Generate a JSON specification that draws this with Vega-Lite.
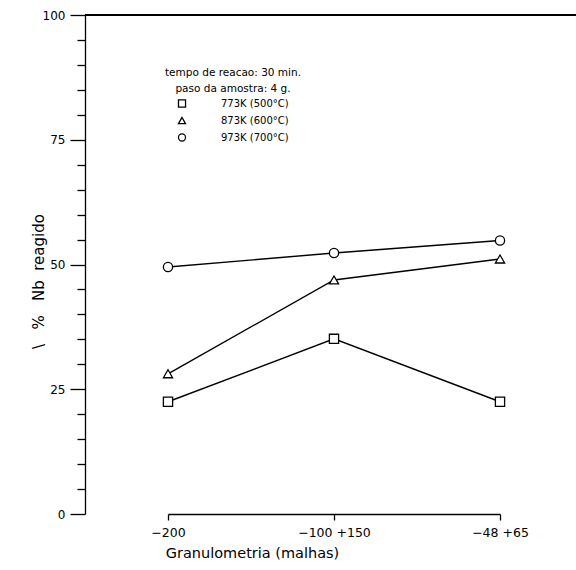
{
  "$schema": "https://vega.github.io/schema/vega-lite/v6.json",
  "width": 491,
  "height": 499,
  "autosize": "none",
  "padding": {"left": 85, "top": 15, "right": 0, "bottom": 56},
  "background": "white",
  "config": {
    "view": {"stroke": null},
    "font": "DejaVu Sans",
    "axis": {"domainColor": "black", "tickColor": "black", "labelColor": "black", "titleColor": "black", "domainWidth": 1.3, "tickWidth": 1.3, "grid": false, "titleFontWeight": "normal"}
  },
  "data": {"values": [
    {"gran": "−200", "temp": "773K (500°C)", "pct": 22.5},
    {"gran": "−100 +150", "temp": "773K (500°C)", "pct": 35.1},
    {"gran": "−48 +65", "temp": "773K (500°C)", "pct": 22.5},
    {"gran": "−200", "temp": "873K (600°C)", "pct": 28.1},
    {"gran": "−100 +150", "temp": "873K (600°C)", "pct": 46.9},
    {"gran": "−48 +65", "temp": "873K (600°C)", "pct": 51.1},
    {"gran": "−200", "temp": "973K (700°C)", "pct": 49.5},
    {"gran": "−100 +150", "temp": "973K (700°C)", "pct": 52.3},
    {"gran": "−48 +65", "temp": "973K (700°C)", "pct": 54.8}
  ]},
  "encoding": {
    "x": {
      "field": "gran", "type": "ordinal",
      "sort": ["−200", "−100 +150", "−48 +65"],
      "scale": {"type": "point", "range": [83, 415], "padding": 0},
      "axis": {"title": "Granulometria (malhas)", "titleFontSize": 14.5, "titleX": 167, "titleY": 39, "titleBaseline": "middle", "titleAlign": "center", "labelFontSize": 12.5, "labelPadding": 6, "tickSize": 6, "labelAngle": 0}
    },
    "y": {
      "field": "pct", "type": "quantitative",
      "scale": {"domain": [0, 100], "nice": false},
      "axis": {
        "values": [0, 5, 10, 15, 20, 25, 30, 35, 40, 45, 50, 55, 60, 65, 70, 75, 80, 85, 90, 95, 100],
        "labelExpr": "datum.value % 25 === 0 ? datum.label : ''",
        "labelOverlap": false,
        "tickSize": {"condition": {"test": "datum.value % 25 === 0", "value": 15}, "value": 8},
        "labelFontSize": 12, "labelPadding": 5, "labelFlush": false,
        "title": "\\\u00a0\u00a0\u00a0%\u00a0\u00a0\u00a0Nb\u00a0\u00a0reagido", "titleFontSize": 15, "titleX": -47, "titleY": 266, "titleAngle": -90, "titleBaseline": "middle", "titleAlign": "center"
      }
    }
  },
  "resolve": {"legend": {"shape": "independent"}},
  "layer": [
    {
      "mark": {"type": "rule", "color": "black", "strokeWidth": 1.2},
      "encoding": {"y": {"datum": 100, "type": "quantitative"}, "x": {"value": 0}, "x2": {"value": 491}}
    },
    {
      "mark": {"type": "line", "color": "black", "strokeWidth": 1.4},
      "encoding": {"detail": {"field": "temp"}}
    },
    {
      "mark": {"type": "point", "filled": true, "color": "white", "size": 85, "opacity": 1},
      "encoding": {"shape": {"field": "temp", "type": "nominal", "legend": null}}
    },
    {
      "mark": {"type": "point", "filled": false, "color": "black", "strokeWidth": 1.3, "opacity": 1, "size": 85},
      "encoding": {
        "shape": {
          "field": "temp", "type": "nominal",
          "scale": {"domain": ["773K (500°C)", "873K (600°C)", "973K (700°C)"], "range": ["square", "triangle-up", "circle"]},
          "legend": {
            "orient": "none", "legendX": 80, "legendY": 53,
            "title": ["tempo de reacao: 30 min.", "paso da amostra: 4 g."],
            "titleFontSize": 10.5, "titleFontWeight": "normal", "titleColor": "black", "titleLineHeight": 16,
            "titleAnchor": "middle", "titleAlign": "center", "titlePadding": 4,
            "symbolSize": 50, "symbolStrokeWidth": 1.3,
            "labelFontSize": 10, "labelColor": "black", "labelOffset": 34, "rowPadding": 4
          }
        }
      }
    }
  ]
}
